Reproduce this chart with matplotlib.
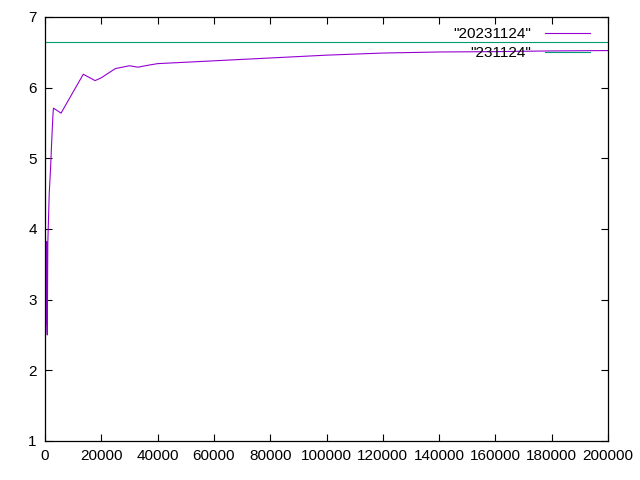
import matplotlib
matplotlib.use("Agg")
import matplotlib.pyplot as plt

# series "20231124"
run_x = [200, 300, 400, 500, 600, 700, 800, 1000, 1500, 2000, 2400, 2800, 3000,
         5700, 13600, 17800, 20000, 25000, 30000, 33000, 37000, 40000, 50000,
         60000, 70000, 80000, 90000, 100000, 110000, 120000, 140000, 160000,
         180000, 200000]
run_y = [3.84, 2.7, 3.8, 2.65, 3.82, 2.6, 2.5, 3.8, 4.5, 4.88, 5.26, 5.6, 5.71,
         5.64, 6.19, 6.1, 6.14, 6.27, 6.31, 6.29, 6.32, 6.34, 6.36,
         6.38, 6.40, 6.42, 6.44, 6.46, 6.475, 6.49, 6.505, 6.51,
         6.52, 6.525]

# series "231124" (constant)
ref_x = [0, 200000]
ref_y = [6.645, 6.645]

plt.rcParams['font.family'] = ['Liberation Sans', 'DejaVu Sans']
plt.rcParams['font.size'] = 11

fig = plt.figure(figsize=(6.4, 4.8), dpi=100)
ax = fig.add_axes([45 / 640, 1 - 441 / 480, 563 / 640, 424 / 480])

ax.plot(run_x, run_y, color='#9400d3', lw=0.8, label='"20231124"')
ax.plot(ref_x, ref_y, color='#009e73', lw=0.8, label='"231124"')

ax.set_xlim(0, 200000)
ax.set_ylim(1, 7)
ax.set_xticks(range(0, 200001, 20000))
ax.set_yticks(range(1, 8))
ax.tick_params(direction='in', top=True, right=True, length=5, width=0.8, pad=6)
for s in ax.spines.values():
    s.set_linewidth(0.9)

ax.legend(loc='upper right', frameon=False, markerfirst=False,
          handlelength=3.0, handletextpad=0.9, labelspacing=0.32,
          borderaxespad=0.2, bbox_to_anchor=(0.985, 0.998))

fig.savefig('out.png', dpi=100)
